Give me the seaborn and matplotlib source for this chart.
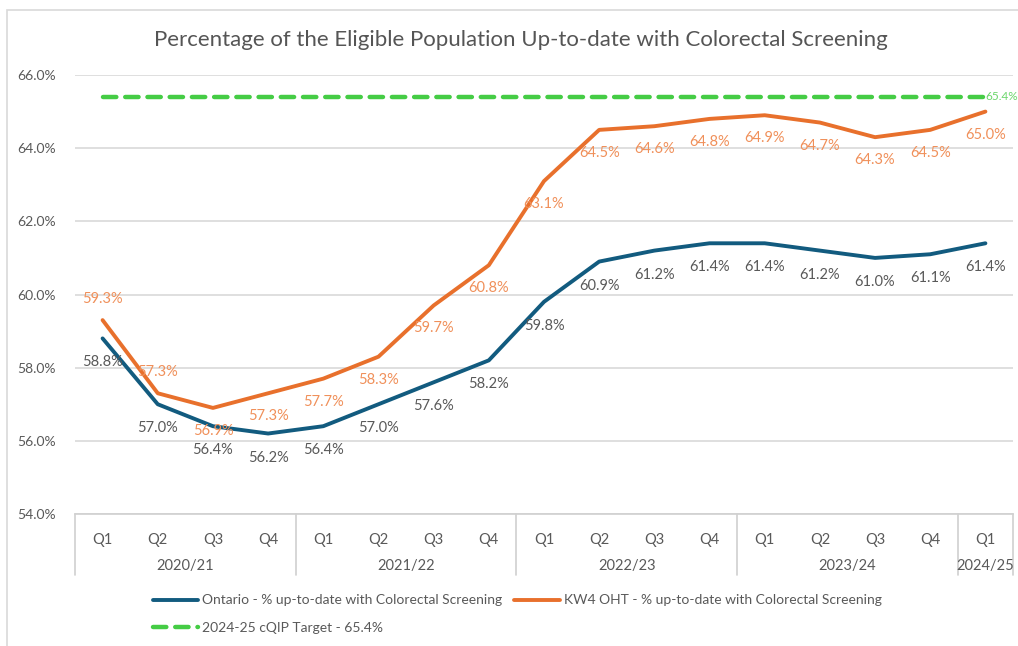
import matplotlib
matplotlib.use('Agg')
import matplotlib.pyplot as plt
import matplotlib.lines as mlines
import matplotlib.patches as mpatches
import numpy as np
import pandas as pd
import seaborn as sns

# Data
quarters = ['Q1', 'Q2', 'Q3', 'Q4', 'Q1', 'Q2', 'Q3', 'Q4', 'Q1', 'Q2', 'Q3', 'Q4',
            'Q1', 'Q2', 'Q3', 'Q4', 'Q1']
years = ['2020/21', '2021/22', '2022/23', '2023/24', '2024/25']
year_sizes = [4, 4, 4, 4, 1]
ontario = [58.8, 57.0, 56.4, 56.2, 56.4, 57.0, 57.6, 58.2, 59.8, 60.9, 61.2, 61.4,
           61.4, 61.2, 61.0, 61.1, 61.4]
kw4 = [59.3, 57.3, 56.9, 57.3, 57.7, 58.3, 59.7, 60.8, 63.1, 64.5, 64.6, 64.8,
       64.9, 64.7, 64.3, 64.5, 65.0]
target = 65.4

ontario_label = 'Ontario - % up-to-date with Colorectal Screening'
kw4_label = 'KW4 OHT - % up-to-date with Colorectal Screening'
target_label = '2024-25 cQIP Target - 65.4%'

blue = '#125B7F'
orange = '#E8702C'
orange_txt = '#F0905A'
green = '#45CC45'
grey_txt = '#595959'

sns.set_style('white')
plt.rcParams['font.family'] = ['Lato', 'DejaVu Sans']

x = np.arange(len(quarters))
df = pd.DataFrame({'x': x, 'Ontario': ontario, 'KW4': kw4})

fig = plt.figure(figsize=(10.18, 6.46), dpi=100)
ax = fig.add_axes([75 / 1018, 132 / 646, 938 / 1018, 439 / 646])

# light frame of the chart area
fig.add_artist(mpatches.Rectangle((7 / 1018, -0.1), 1.2, (636 / 646) + 0.1,
                                  transform=fig.transFigure, fill=False,
                                  edgecolor='#D9D9D9', linewidth=1.2))

sns.lineplot(data=df, x='x', y='Ontario', ax=ax, color=blue, linewidth=2.8)
sns.lineplot(data=df, x='x', y='KW4', ax=ax, color=orange, linewidth=2.8)
ax.plot([x[0], x[-1]], [target, target], color=green, linewidth=3.2,
        dashes=(3, 2), solid_capstyle='round', dash_capstyle='round')

ax.set_xlim(-0.5, len(quarters) - 0.5)
ax.set_ylim(54, 66)
ax.set_yticks(np.arange(54, 66.1, 2))
ax.set_yticklabels([f'{v:.1f}%' for v in np.arange(54, 66.1, 2)])
ax.yaxis.grid(True, color='#D9D9D9', linewidth=1.2)
ax.set_axisbelow(True)
for s in ['top', 'right', 'left']:
    ax.spines[s].set_visible(False)
ax.spines['bottom'].set_color('#D0D0D0')
ax.spines['bottom'].set_linewidth(1.2)
ax.tick_params(axis='y', length=0, labelsize=10, labelcolor=grey_txt, pad=14)
ax.set_xticks(x)
ax.set_xticklabels(quarters)
ax.tick_params(axis='x', length=0, labelsize=10.5, labelcolor=grey_txt, pad=14)
ax.set_xlabel('')
ax.set_ylabel('')

# data labels
for i in range(len(x)):
    ax.annotate(f'{ontario[i]:.1f}%', (x[i], ontario[i]), xytext=(0, -24),
                textcoords='offset pixels', ha='center', va='center',
                fontsize=10.5, color=grey_txt)
    off = 21 if i < 2 else -23
    ax.annotate(f'{kw4[i]:.1f}%', (x[i], kw4[i]), xytext=(0, off),
                textcoords='offset pixels', ha='center', va='center',
                fontsize=10.5, color=orange_txt)
ax.annotate(f'{target:.1f}%', (x[-1], target), xytext=(0, 0),
            textcoords='offset pixels', ha='left', va='center',
            fontsize=8.5, color='#6AD66A', annotation_clip=False)

# year group labels and separators
trans = ax.get_xaxis_transform()
sep_bottom = -61 / 439
start = 0
bounds = [-0.5]
for yr, n in zip(years, year_sizes):
    mid = start + (n - 1) / 2
    ax.text(mid, -52 / 439, yr, transform=trans, ha='center', va='center',
            fontsize=10.5, color=grey_txt)
    start += n
    bounds.append(start - 0.5)
for b in bounds:
    ax.add_line(mlines.Line2D([b, b], [0, sep_bottom], transform=trans,
                              color='#D0D0D0', linewidth=1.2, clip_on=False))

fig.text(521 / 1018, 1 - 40 / 646,
         'Percentage of the Eligible Population Up-to-date with Colorectal Screening',
         ha='center', va='center', fontsize=16, color='#555555')

h1 = mlines.Line2D([], [], color=blue, linewidth=2.8)
h2 = mlines.Line2D([], [], color=orange, linewidth=2.8)
h3 = mlines.Line2D([], [], color=green, linewidth=3.2, dashes=(3, 2),
                   dash_capstyle='round')
fig.legend([h1, h3, h2], [ontario_label, target_label, kw4_label], ncol=2,
           loc='upper left', bbox_to_anchor=(140 / 1018, 1 - 582 / 646),
           frameon=False, fontsize=10, labelcolor=grey_txt, handlelength=3.3,
           handletextpad=0.3, columnspacing=0.85, labelspacing=1.1)

fig.savefig('out.png', dpi=100)
